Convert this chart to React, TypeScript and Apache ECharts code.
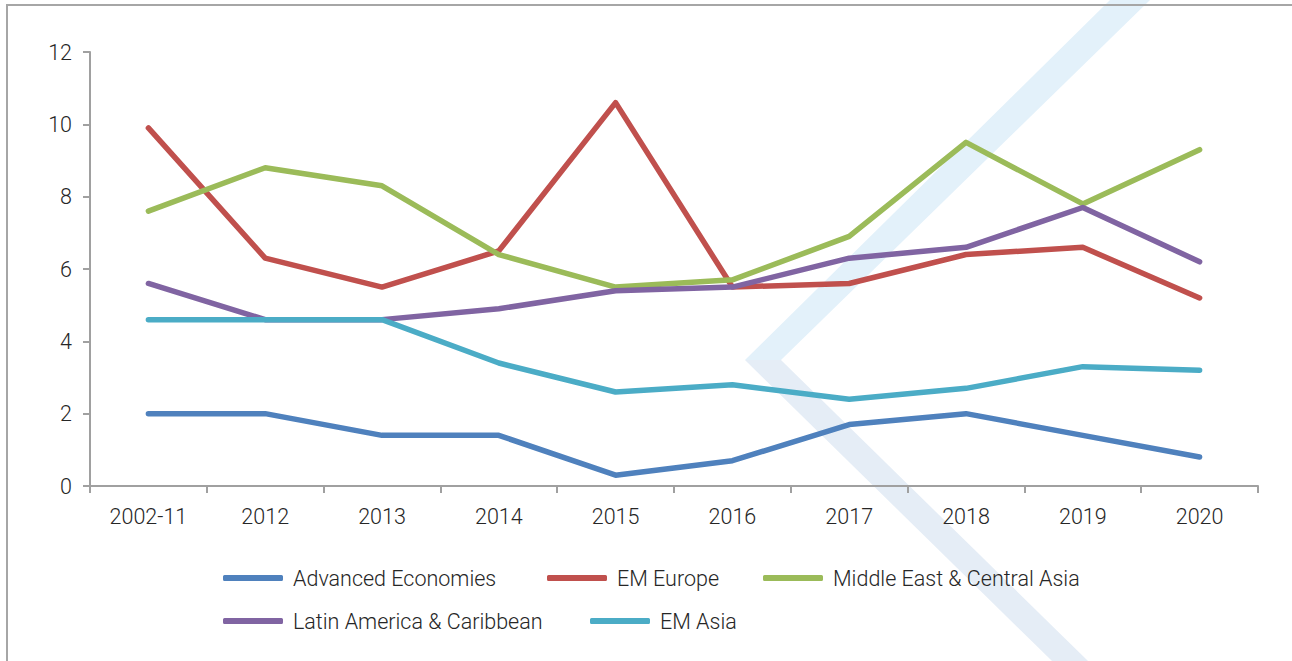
import React, { useEffect, useRef } from "react";
import * as echarts from "echarts";

const categories = ["2002-11", "2012", "2013", "2014", "2015", "2016", "2017", "2018", "2019", "2020"];
const advancedEconomies = [2.0, 2.0, 1.4, 1.4, 0.3, 0.7, 1.7, 2.0, 1.4, 0.8];
const emEurope = [9.9, 6.3, 5.5, 6.5, 10.6, 5.5, 5.6, 6.4, 6.6, 5.2];
const middleEast = [7.6, 8.8, 8.3, 6.4, 5.5, 5.7, 6.9, 9.5, 7.8, 9.3];
const latinAmerica = [5.6, 4.6, 4.6, 4.9, 5.4, 5.5, 6.3, 6.6, 7.7, 6.2];
const emAsia = [4.6, 4.6, 4.6, 3.4, 2.6, 2.8, 2.4, 2.7, 3.3, 3.2];

const seriesNames = [
  "Advanced Economies",
  "EM Europe",
  "Middle East & Central Asia",
  "Latin America & Caribbean",
  "EM Asia",
];
const seriesData = [advancedEconomies, emEurope, middleEast, latinAmerica, emAsia];
const colors = ["#4F81BD", "#C0504D", "#9BBB59", "#8064A2", "#4BACC6"];

const FONT = "Roboto";
const TEXT_COLOR = "#262626";
const FONT_SIZE = 21.5;

export default function App() {
  const ref = useRef<HTMLDivElement>(null);

  useEffect(() => {
    document.body.style.margin = "0";
    const chart = echarts.init(ref.current!, null, { renderer: "svg" });

    const legendPos = [
      { left: 223, top: 566 },
      { left: 547, top: 566 },
      { left: 763, top: 566 },
      { left: 223, top: 609 },
      { left: 590, top: 609 },
    ];

    const option: any = {
      animation: false,
      backgroundColor: "#ffffff",
      color: colors,
      grid: { left: 90, right: 34, top: 52, bottom: 175 },
      graphic: {
        z: -10,
        elements: [
          {
            type: "polygon",
            z: -10,
            shape: { points: [[1110, 0], [1150, 0], [781, 360], [745, 360]] },
            style: { fill: "#E3F1FA" },
            silent: true,
          },
          {
            type: "polygon",
            z: -10,
            shape: { points: [[745, 360], [781, 360], [1088, 661], [1052, 661]] },
            style: { fill: "#E5EDF6" },
            silent: true,
          },
          {
            type: "rect",
            z: -10,
            shape: { x: 7, y: 5, width: 1400, height: 800 },
            style: { fill: "none", stroke: "#A6A6A6", lineWidth: 2 },
            silent: true,
          },
        ],
      },
      legend: seriesNames.map((name, i) => ({
        data: [name],
        left: legendPos[i].left,
        top: legendPos[i].top,
        padding: 0,
        itemWidth: 60,
        itemHeight: 6,
        icon: "roundRect",
        textStyle: {
          fontFamily: FONT,
          fontWeight: 300,
          fontSize: FONT_SIZE,
          color: TEXT_COLOR,
          lineHeight: 24,
          padding: [0, 0, 0, 5],
        },
      })),
      xAxis: {
        type: "category",
        data: categories,
        boundaryGap: true,
        axisLine: { lineStyle: { color: "#A0A0A0", width: 2 } },
        axisTick: { show: true, length: 7, lineStyle: { color: "#A0A0A0", width: 2 } },
        axisLabel: {
          fontFamily: FONT,
          fontWeight: 300,
          fontSize: FONT_SIZE,
          color: TEXT_COLOR,
          margin: 19,
        },
        splitLine: { show: false },
      },
      yAxis: {
        type: "value",
        min: 0,
        max: 12,
        interval: 2,
        axisLine: { show: true, lineStyle: { color: "#A0A0A0", width: 2 } },
        axisTick: { show: true, length: 7, lineStyle: { color: "#A0A0A0", width: 2 } },
        axisLabel: {
          fontFamily: FONT,
          fontWeight: 300,
          fontSize: FONT_SIZE,
          color: TEXT_COLOR,
          margin: 18,
        },
        splitLine: { show: false },
      },
      series: seriesNames.map((name, i) => ({
        name,
        type: "line",
        data: seriesData[i],
        symbol: "none",
        lineStyle: { width: 5.5, color: colors[i], cap: "round", join: "round" },
        itemStyle: { color: colors[i] },
        z: 2 + i,
      })),
    };

    chart.setOption(option);
    return () => chart.dispose();
  }, []);

  return <div ref={ref} style={{ width: 1292, height: 661 }} />;
}
